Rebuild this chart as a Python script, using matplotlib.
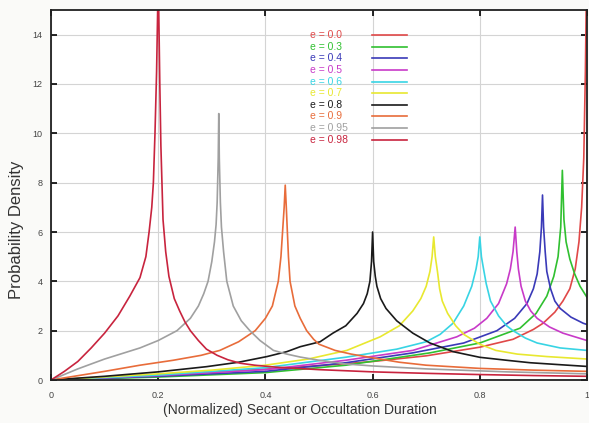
import matplotlib
matplotlib.use("Agg")
import matplotlib.pyplot as plt

plt.rcParams['font.family'] = ['Liberation Sans', 'DejaVu Sans']

labels = ["e = 0.0", "e = 0.3", "e = 0.4", "e = 0.5", "e = 0.6",
          "e = 0.7", "e = 0.8", "e = 0.9", "e = 0.95", "e = 0.98"]
colors = ["#e04848", "#30c030", "#3a3ab8", "#c83ac8", "#38d4e4",
          "#e8e830", "#1a1a1a", "#e86c3a", "#a0a0a0", "#c8243e"]

x_e00 = [0, 0.2, 0.4, 0.5, 0.6, 0.7, 0.8, 0.862, 0.9, 0.918, 0.94, 0.955, 0.968, 0.978, 0.985, 0.99, 0.994, 0.997, 0.999]
y_e00 = [0, 0.2, 0.44, 0.58, 0.75, 0.98, 1.33, 1.65, 2.05, 2.3, 2.75, 3.2, 3.7, 4.5, 5.6, 7.0, 9.0, 12.5, 16]

x_e03 = [0, 0.2, 0.4, 0.55, 0.707, 0.8, 0.875, 0.905, 0.925, 0.938, 0.946, 0.951, 0.954,
         0.957, 0.961, 0.968, 0.977, 0.987, 1.0]
y_e03 = [0, 0.12, 0.3, 0.6, 1.1, 1.5, 2.1, 2.7, 3.4, 4.2, 5.0, 6.2, 8.5,
         6.5, 5.6, 4.9, 4.3, 3.8, 3.35]

x_e04 = [0, 0.2, 0.4, 0.55, 0.675, 0.77, 0.832, 0.865, 0.888, 0.9, 0.907, 0.912, 0.915, 0.917,
         0.919, 0.922, 0.925, 0.932, 0.94, 0.95, 0.97, 0.993, 1.0]
y_e04 = [0, 0.15, 0.35, 0.7, 1.1, 1.5, 2.0, 2.5, 3.1, 3.7, 4.3, 5.2, 6.2, 7.5,
         6.2, 5.2, 4.4, 3.7, 3.2, 2.9, 2.55, 2.3, 2.25]

x_e05 = [0, 0.2, 0.4, 0.55, 0.675, 0.757, 0.79, 0.813, 0.835, 0.85, 0.857, 0.862, 0.866,
         0.869, 0.872, 0.877, 0.885, 0.895, 0.907, 0.93, 0.955, 1.0]
y_e05 = [0, 0.18, 0.42, 0.8, 1.2, 1.75, 2.1, 2.5, 3.1, 3.9, 4.5, 5.2, 6.2,
         5.2, 4.5, 3.8, 3.2, 2.8, 2.5, 2.15, 1.9, 1.6]

x_e06 = [0, 0.2, 0.4, 0.552, 0.645, 0.7, 0.726, 0.75, 0.77, 0.785, 0.793, 0.797, 0.8,
         0.803, 0.807, 0.812, 0.82, 0.835, 0.85, 0.862, 0.885, 0.907, 0.95, 1.0]
y_e06 = [0, 0.2, 0.5, 0.93, 1.25, 1.55, 1.85, 2.3, 3.0, 3.8, 4.5, 5.0, 5.8,
         5.0, 4.5, 3.9, 3.2, 2.6, 2.2, 2.0, 1.7, 1.5, 1.3, 1.2]

x_e07 = [0, 0.2, 0.3, 0.4, 0.48, 0.552, 0.614, 0.65, 0.675, 0.69, 0.7, 0.707, 0.711, 0.714,
         0.717, 0.721, 0.725, 0.73, 0.74, 0.755, 0.77, 0.8, 0.83, 0.87, 0.925, 1.0]
y_e07 = [0, 0.25, 0.4, 0.6, 0.85, 1.2, 1.75, 2.2, 2.8, 3.3, 3.8, 4.4, 5.0, 5.8,
         5.0, 4.4, 3.7, 3.2, 2.7, 2.2, 1.85, 1.45, 1.2, 1.05, 0.95, 0.85]

x_e08 = [0, 0.1, 0.2, 0.29, 0.35, 0.403, 0.44, 0.465, 0.502, 0.526, 0.55, 0.571, 0.583, 0.59, 0.595, 0.598, 0.6,
         0.602, 0.605, 0.608, 0.615, 0.625, 0.645, 0.675, 0.707, 0.75, 0.8, 0.85, 0.894, 0.95, 1.0]
y_e08 = [0, 0.15, 0.33, 0.54, 0.72, 0.95, 1.15, 1.35, 1.55, 1.9, 2.2, 2.7, 3.1, 3.5, 4.0, 4.8, 6.0,
         4.8, 4.2, 3.8, 3.3, 2.9, 2.4, 1.9, 1.5, 1.15, 0.92, 0.8, 0.7, 0.62, 0.55]

x_e09 = [0, 0.1, 0.166, 0.228, 0.28, 0.315, 0.35, 0.381, 0.4, 0.413, 0.424, 0.429, 0.432, 0.435, 0.437,
         0.439, 0.441, 0.443, 0.446, 0.455, 0.465, 0.477, 0.49, 0.5, 0.53, 0.56, 0.6, 0.65, 0.7, 0.8, 0.9, 1.0]
y_e09 = [0, 0.35, 0.6, 0.8, 1.0, 1.2, 1.55, 2.0, 2.5, 3.0, 4.0, 5.0, 6.0, 7.0, 7.9,
         7.0, 6.0, 5.0, 4.0, 3.0, 2.5, 2.0, 1.65, 1.45, 1.2, 1.05, 0.9, 0.72, 0.6, 0.47, 0.4, 0.35]

x_e095 = [0, 0.05, 0.1, 0.166, 0.2, 0.235, 0.26, 0.275, 0.285, 0.293, 0.3, 0.305, 0.308, 0.31, 0.312, 0.313,
          0.314, 0.316, 0.318, 0.322, 0.328, 0.334, 0.34, 0.355, 0.371, 0.39, 0.415, 0.44, 0.465, 0.5, 0.55,
          0.6, 0.7, 0.85, 1.0]
y_e095 = [0, 0.45, 0.85, 1.3, 1.6, 2.0, 2.5, 3.0, 3.5, 4.0, 4.8, 5.6, 6.3, 7.2, 9.0, 10.8,
          9.0, 7.2, 6.2, 5.2, 4.0, 3.5, 3.0, 2.4, 2.0, 1.6, 1.2, 1.05, 0.93, 0.8, 0.65,
          0.57, 0.45, 0.33, 0.25]

x_e098 = [0, 0.025, 0.05, 0.075, 0.1, 0.125, 0.147, 0.166, 0.177, 0.183, 0.188, 0.191, 0.194, 0.197, 0.199, 0.2,
          0.201, 0.203, 0.205, 0.207, 0.209, 0.214, 0.22, 0.23, 0.24, 0.25, 0.26, 0.275, 0.29, 0.31, 0.33,
          0.353, 0.38, 0.42, 0.5, 0.6, 0.7, 0.8, 0.9, 1.0]
y_e098 = [0, 0.35, 0.75, 1.3, 1.9, 2.6, 3.4, 4.15, 5.0, 6.0, 7.0, 8.0, 10.0, 12.5, 15.0, 17.0,
          15.0, 12.0, 9.5, 8.0, 6.5, 5.2, 4.2, 3.3, 2.8, 2.35, 2.0, 1.6, 1.25, 1.0, 0.82,
          0.68, 0.6, 0.52, 0.42, 0.33, 0.27, 0.22, 0.18, 0.15]

series_x = [x_e00, x_e03, x_e04, x_e05, x_e06, x_e07, x_e08, x_e09, x_e095, x_e098]
series_y = [y_e00, y_e03, y_e04, y_e05, y_e06, y_e07, y_e08, y_e09, y_e095, y_e098]

x_ticks = [0, 0.2, 0.4, 0.6, 0.8, 1.0]
x_ticklabels = ["0", "0.2", "0.4", "0.6", "0.8", "1"]
y_ticks = [0, 2, 4, 6, 8, 10, 12, 14]
y_ticklabels = ["0", "2", "4", "6", "8", "10", "12", "14"]

fig = plt.figure(figsize=(5.89, 4.23), dpi=100, facecolor="#fafaf8")
ax = fig.add_axes([51/589, 43/423, 536/589, 370/423])
ax.set_facecolor("white")

for xs, ys, c in zip(series_x, series_y, colors):
    ax.plot(xs, ys, color=c, lw=1.2, solid_joinstyle='round')

ax.set_xlim(0, 1)
ax.set_ylim(0, 15)
ax.set_xticks(x_ticks)
ax.set_xticklabels(x_ticklabels)
ax.set_yticks(y_ticks)
ax.set_yticklabels(y_ticklabels)
ax.grid(True, color="#d4d4d4", lw=0.8)
ax.set_axisbelow(True)
ax.tick_params(direction="in", length=4, width=1.2, top=True, right=True,
               labelsize=6.5, labelcolor="#444444", pad=6)
ax.tick_params(axis="x", pad=8)
for s in ax.spines.values():
    s.set_linewidth(1.3)
    s.set_color("#202020")

ax.set_xlabel("(Normalized) Secant or Occultation Duration", fontsize=10,
              color="#333333")
ax.xaxis.set_label_coords(0.4646, -0.063)
ax.set_ylabel("Probability Density", fontsize=12, color="#333333")
ax.yaxis.set_label_coords(-0.05, 0.405)

# legend (gnuplot style key: coloured text, then line sample)
top = 0.932
step = 0.0314
for i, (lab, c) in enumerate(zip(labels, colors)):
    yy = top - i * step
    ax.text(0.483, yy, lab, color=c, fontsize=7.5, va="center", ha="left",
            transform=ax.transAxes)
    ax.plot([0.599, 0.664], [yy, yy], color=c, lw=1.2, transform=ax.transAxes)

fig.savefig("out.png", dpi=100, facecolor=fig.get_facecolor())
